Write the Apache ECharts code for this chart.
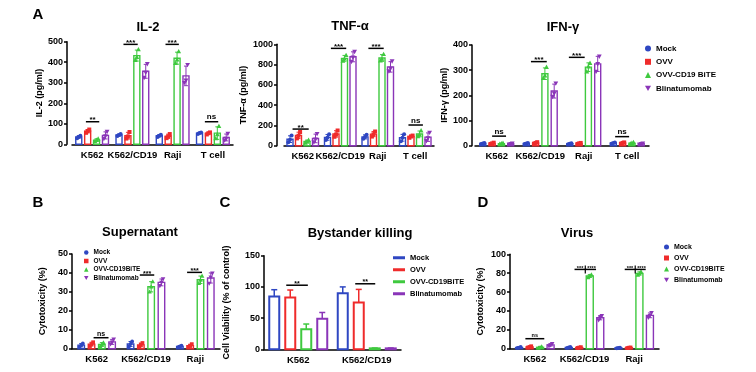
<!DOCTYPE html>
<html><head><meta charset="utf-8">
<script src="https://cdn.jsdelivr.net/npm/echarts@6/dist/echarts.min.js"></script>
<style>html,body{margin:0;padding:0;background:#fff}#c{width:756px;height:372px}</style>
</head><body><div id="c"></div>
<script>
// ---------------- DATA ----------------
const catsA = ['K562', 'K562/CD19', 'Raji', 'T cell'];
const catsB = ['K562', 'K562/CD19', 'Raji'];
const catsC = ['K562', 'K562/CD19'];
const catsD = ['K562', 'K562/CD19', 'Raji'];

const namesA = ['Mock', 'OVV', 'OVV-CD19 BiTE', 'Blinatumomab'];
const namesBC = ['Mock', 'OVV', 'OVV-CD19BiTE', 'Blinatumomab'];
const namesD = ['Mock', 'OVV', 'OVV-CD19BITE', 'Blinatumomab'];

// replicate values (3 per bar), one array per group
const il2Mock = [[30, 36, 42], [40, 45, 50], [36, 42, 47], [50, 55, 58]];
const il2Ovv  = [[56, 64, 72], [28, 38, 60], [30, 38, 50], [48, 54, 58]];
const il2Bite = [[14, 20, 27], [410, 425, 462], [395, 412, 452], [28, 48, 88]];
const il2Blin = [[28, 40, 62], [325, 350, 392], [300, 312, 388], [20, 28, 52]];

const tnfMock = [[35, 58, 100], [55, 80, 112], [68, 85, 108], [45, 78, 112]];
const tnfOvv  = [[72, 98, 135], [88, 110, 150], [90, 112, 140], [78, 92, 100]];
const tnfBite = [[28, 40, 55], [835, 858, 892], [838, 855, 902], [92, 108, 148]];
const tnfBlin = [[35, 62, 118], [830, 872, 928], [735, 762, 835], [48, 75, 130]];

const ifnMock = [[7, 9, 11], [7, 9, 11], [6, 8, 10], [8, 11, 13]];
const ifnOvv  = [[7, 9, 12], [8, 11, 14], [7, 9, 11], [8, 11, 13]];
const ifnBite = [[6, 8, 10], [268, 278, 312], [294, 314, 328], [7, 10, 13]];
const ifnBlin = [[6, 8, 10], [195, 208, 248], [295, 325, 355], [6, 8, 10]];

const supMock = [[1, 1.8, 2.8], [1.2, 2.5, 3.8], [0.8, 1.2, 1.6]];
const supOvv  = [[1.4, 2.4, 3.4], [1, 2, 3], [0.9, 1.5, 2.4]];
const supBite = [[1.2, 2.2, 3.2], [30, 32.7, 35.4], [34.5, 36.3, 38.4]];
const supBlin = [[2.4, 3.4, 5], [33.2, 35, 36.8], [34.5, 37.7, 39.8]];

// bystander killing: mean and SD
const byMean = { mock: [84.5, 90], ovv: [83, 75], bite: [32, 1.5], blin: [49, 1.5] };
const bySd   = { mock: [11, 10],   ovv: [12, 21], bite: [8.5, 0.6], blin: [10, 0.6] };

const virMock = [[0.8, 1.2, 1.8], [0.8, 1.3, 1.8], [0.5, 0.8, 1.1]];
const virOvv  = [[1.2, 1.8, 2.6], [0.8, 1.2, 1.6], [0.7, 1, 1.3]];
const virBite = [[0.8, 1.4, 2.2], [75.5, 77, 78.5], [78, 79.5, 81.5]];
const virBlin = [[2.8, 4, 5.2], [30.5, 33, 35], [33, 35, 38]];

// significance: [category, fromGroup, toGroup, yValue, label]
const il2Sig = [[0, 0.8, 2.3, 110, '**'], [1, 0.5, 2.1, 487, '***'], [2, 0.7, 2.2, 487, '***'], [3, 0.6, 2.1, 110, 'ns']];
const tnfSig = [[0, 0.3, 2.2, 164, '**'], [1, 0.4, 2.2, 960, '***'], [2, 0.4, 2.2, 960, '***'], [3, 0.7, 2.4, 204, 'ns']];
const ifnSig = [[0, 1.0, 2.5, 38, 'ns'], [1, 0.5, 2.2, 334, '***'], [2, -0.1, 1.6, 351, '***'], [3, 0.2, 1.7, 36, 'ns']];
const supSig = [[0, 1.2, 2.65, 5.8, 'ns'], [1, 0.9, 2.3, 38.9, '***'], [2, 0.7, 2.15, 40.3, '***']];
const bySig  = [[0, 0.75, 2.1, 102.7, '**'], [1, 0.78, 2.03, 105, '**']];
const virSig = [[0, 0.6, 2.4, 10.6, 'ns'], [1, 0.55, 2.6, 84, '***|****'], [2, 0.6, 2.6, 84, '***|****']];

// ---------------- STYLE / LAYOUT ----------------
const FONT = '"Liberation Sans", Arial, Helvetica, sans-serif';
const COLORS = ['#2f47c2', '#ef2b2b', '#3fc93f', '#8a35b8'];
const JIT = [-1.6, 0, 1.6];

const panels = [
  { grid: { left: 72, top: 41.7, width: 161, height: 102.6 }, offset: 5, max: 500, interval: 100, yName: 'IL-2 (pg/ml)', nameGap: 21,
    cats: catsA, names: namesA, reps: [il2Mock, il2Ovv, il2Bite, il2Blin], sig: il2Sig, spacing: 8.9, barWidth: 6, mr: 2, cap: 2, sigFont: 8 },
  { grid: { left: 284, top: 44.3, width: 150, height: 101.4 }, offset: 7, max: 1000, interval: 200, yName: 'TNF-\u03b1 (pg/ml)', nameGap: 29,
    cats: catsA, names: namesA, reps: [tnfMock, tnfOvv, tnfBite, tnfBlin], sig: tnfSig, spacing: 8.5, barWidth: 6, mr: 2, cap: 2, sigFont: 8 },
  { grid: { left: 475, top: 45, width: 174, height: 100.7 }, offset: 3, max: 400, interval: 100, yName: 'IFN-\u03b3 (pg/ml)', nameGap: 21,
    cats: catsA, names: namesA, reps: [ifnMock, ifnOvv, ifnBite, ifnBlin], sig: ifnSig, spacing: 9.3, barWidth: 6, mr: 2, cap: 2, sigFont: 8 },
  { grid: { left: 72, top: 254, width: 148, height: 94.7 }, offset: 0, max: 50, interval: 10, yName: 'Cytotoxicity (%)', nameGap: 25,
    cats: catsB, names: namesBC, reps: [supMock, supOvv, supBite, supBlin], sig: supSig, spacing: 10.3, barWidth: 6.5, mr: 1.9, cap: 2, sigFont: 7 },
  { grid: { left: 264, top: 255.7, width: 137, height: 93.6 }, offset: 0, max: 150, interval: 50, yName: 'Cell Viability (% of control)', nameGap: 33,
    cats: catsC, names: namesBC, sig: bySig, spacing: 16, barWidth: 10, cap: 3, sigFont: 7 },
  { grid: { left: 510, top: 254.3, width: 149, height: 94.4 }, offset: 0, max: 100, interval: 20, yName: 'Cytotoxicity (%)', nameGap: 25,
    cats: catsD, names: namesD, reps: [virMock, virOvv, virBite, virBlin], sig: virSig, spacing: 10.5, barWidth: 7, mr: 1.9, cap: 2, sigFont: 5.5 }
];

function mean(a) { return a.reduce((s, v) => s + v, 0) / a.length; }
function sdev(a) { const m = mean(a); return Math.sqrt(a.reduce((s, v) => s + (v - m) * (v - m), 0) / (a.length - 1)); }

function marker(shape, x, y, r, color) {
  if (shape === 0) return { type: 'circle', shape: { cx: x, cy: y, r: r }, style: { fill: color } };
  if (shape === 1) return { type: 'rect', shape: { x: x - r, y: y - r, width: 2 * r, height: 2 * r }, style: { fill: color } };
  if (shape === 2) return { type: 'polygon', shape: { points: [[x, y - r * 1.3], [x + r * 1.2, y + r * 0.9], [x - r * 1.2, y + r * 0.9]] }, style: { fill: color } };
  return { type: 'polygon', shape: { points: [[x, y + r * 1.3], [x + r * 1.2, y - r * 0.9], [x - r * 1.2, y - r * 0.9]] }, style: { fill: color } };
}

function barRender(p, sIdx, reps) {
  return function (params, api) {
    const i = params.dataIndex;
    const r = reps[i]; const m = mean(r), s = sdev(r);
    const base = api.coord([i, 0]);
    const cx = base[0] + (sIdx - 1.5) * p.spacing;
    const yTop = api.coord([i, m])[1];
    const yE1 = api.coord([i, m + s])[1], yE0 = api.coord([i, Math.max(0, m - s)])[1];
    const c = COLORS[sIdx], hw = p.barWidth / 2;
    const ch = [
      { type: 'rect', shape: { x: cx - hw, y: yTop, width: p.barWidth, height: Math.max(base[1] - yTop, 0) }, style: { fill: '#fff', stroke: c, lineWidth: 1.4 } },
      { type: 'line', shape: { x1: cx, y1: yE1, x2: cx, y2: yE0 }, style: { stroke: c, lineWidth: 1 } },
      { type: 'line', shape: { x1: cx - p.cap, y1: yE1, x2: cx + p.cap, y2: yE1 }, style: { stroke: c, lineWidth: 1 } },
      { type: 'line', shape: { x1: cx - p.cap, y1: yE0, x2: cx + p.cap, y2: yE0 }, style: { stroke: c, lineWidth: 1 } }
    ];
    r.forEach((v, k) => ch.push(marker(sIdx, cx + JIT[k], api.coord([i, v])[1], p.mr, c)));
    return { type: 'group', children: ch };
  };
}

function byRender(p, sIdx, means, sds) {
  return function (params, api) {
    const i = params.dataIndex;
    const m = means[i], s = sds[i];
    const base = api.coord([i, 0]);
    const cx = base[0] + (sIdx - 1.5) * p.spacing;
    const yTop = api.coord([i, m])[1];
    const yE1 = api.coord([i, m + s])[1];
    const c = COLORS[sIdx], hw = p.barWidth / 2;
    return { type: 'group', children: [
      { type: 'line', shape: { x1: cx, y1: yE1, x2: cx, y2: yTop }, style: { stroke: c, lineWidth: 1.5 } },
      { type: 'line', shape: { x1: cx - p.cap, y1: yE1, x2: cx + p.cap, y2: yE1 }, style: { stroke: c, lineWidth: 1.5 } },
      { type: 'rect', shape: { x: cx - hw, y: yTop, width: p.barWidth, height: Math.max(base[1] - yTop, 0) }, style: { fill: '#fff', stroke: c, lineWidth: 2 } }
    ] };
  };
}

function sigRender(p, sig) {
  return function (params, api) {
    const a = sig[params.dataIndex];
    const base = api.coord([a[0], a[3]]);
    const x1 = base[0] + (a[1] - 1.5) * p.spacing, x2 = base[0] + (a[2] - 1.5) * p.spacing, y = base[1];
    const ch = [{ type: 'line', shape: { x1: x1, y1: y, x2: x2, y2: y }, style: { stroke: '#000', lineWidth: 1.5 } }];
    const font = 'bold ' + p.sigFont + 'px ' + FONT;
    if (a[4].indexOf('|') >= 0) {
      const parts = a[4].split('|'); const xm = (x1 + x2) / 2;
      ch.push({ type: 'line', shape: { x1: xm, y1: y - 4, x2: xm, y2: y + 4 }, style: { stroke: '#000', lineWidth: 1.2 } });
      ch.push({ type: 'text', style: { text: parts[0], x: xm - 2, y: y + p.sigFont * 0.3, align: 'right', verticalAlign: 'bottom', font: font, fill: '#000' } });
      ch.push({ type: 'text', style: { text: parts[1], x: xm + 2, y: y + p.sigFont * 0.3, align: 'left', verticalAlign: 'bottom', font: font, fill: '#000' } });
    } else {
      const ty = a[4].charAt(0) === '*' ? y + p.sigFont * 0.3 : y - 0.5;
      ch.push({ type: 'text', style: { text: a[4], x: (x1 + x2) / 2, y: ty, align: 'center', verticalAlign: 'bottom', font: font, fill: '#000' } });
    }
    return { type: 'group', children: ch };
  };
}

const grids = [], xAxes = [], yAxes = [], series = [];
panels.forEach((p, k) => {
  grids.push(Object.assign({ containLabel: false }, p.grid));
  xAxes.push({ type: 'category', gridIndex: k, data: p.cats,
    axisLine: { lineStyle: { color: '#000', width: 1.5 } },
    axisTick: { alignWithLabel: true, length: 3, lineStyle: { color: '#000', width: 1.5 } },
    axisLabel: { color: '#000', fontWeight: 'bold', fontSize: 9.5, fontFamily: FONT, margin: 6, interval: 0 } });
  yAxes.push({ type: 'value', gridIndex: k, min: 0, max: p.max, interval: p.interval, offset: p.offset,
    name: p.yName, nameLocation: 'middle', nameGap: p.nameGap,
    nameTextStyle: { fontWeight: 'bold', fontSize: 9, color: '#000', fontFamily: FONT },
    axisLine: { show: true, lineStyle: { color: '#000', width: 1.5 } },
    axisTick: { show: true, length: 3, lineStyle: { color: '#000', width: 1.5 } },
    axisLabel: { color: '#000', fontWeight: 'bold', fontSize: 9, fontFamily: FONT, margin: 4, formatter: v => String(v) },
    splitLine: { show: false } });
  for (let s = 0; s < 4; s++) {
    if (p.reps) {
      series.push({ type: 'custom', name: p.names[s], xAxisIndex: k, yAxisIndex: k, silent: true,
        itemStyle: { color: COLORS[s] },
        data: p.reps[s].map((r, i) => [i, mean(r)]), renderItem: barRender(p, s, p.reps[s]) });
    } else {
      const key = ['mock', 'ovv', 'bite', 'blin'][s];
      series.push({ type: 'custom', name: p.names[s], xAxisIndex: k, yAxisIndex: k, silent: true,
        itemStyle: { color: COLORS[s] },
        data: byMean[key].map((m, i) => [i, m]), renderItem: byRender(p, s, byMean[key], bySd[key]) });
    }
  }
  series.push({ type: 'custom', xAxisIndex: k, yAxisIndex: k, silent: true, z: 5,
    data: p.sig.map(a => [a[0], a[3]]), renderItem: sigRender(p, p.sig) });
});

const invTri = 'path://M0,0L10,0L5,9Z';
function legendData(names, rectIcons) {
  const icons = ['circle', 'rect', 'triangle', invTri];
  return names.map((n, i) => ({ name: n, icon: rectIcons ? 'rect' : icons[i] }));
}
function legendText(size, lh) { return { fontWeight: 'bold', fontSize: size, fontFamily: FONT, color: '#000', lineHeight: lh }; }

const legends = [
  { left: 640, top: 39, orient: 'vertical', itemWidth: 6, itemHeight: 6, itemGap: 4.3, selectedMode: false,
    data: legendData(namesA), textStyle: legendText(8, 9) },
  { left: 79, top: 244, orient: 'vertical', itemWidth: 4.5, itemHeight: 4.5, itemGap: 1.5, selectedMode: false,
    data: legendData(namesBC), textStyle: legendText(6.5, 7) },
  { left: 388, top: 248.5, orient: 'vertical', itemWidth: 12, itemHeight: 3, itemGap: 3.5, selectedMode: false,
    data: legendData(namesBC, true), textStyle: legendText(7.5, 8.5) },
  { left: 659, top: 238, orient: 'vertical', itemWidth: 5, itemHeight: 5, itemGap: 3, selectedMode: false,
    data: legendData(namesD), textStyle: legendText(7, 8) }
];

function txt(t, x, y, size) {
  return { type: 'text', x: x, y: y, silent: true,
    style: { text: t, align: 'center', verticalAlign: 'middle', font: 'bold ' + size + 'px ' + FONT, fill: '#000' } };
}
const graphics = [
  txt('A', 38, 15, 15), txt('B', 38, 203, 15), txt('C', 225, 203, 15), txt('D', 483, 203, 15),
  txt('IL-2', 148, 27, 13), txt('TNF-\u03b1', 350, 26, 13), txt('IFN-\u03b3', 563, 27, 13),
  txt('Supernatant', 140, 232, 13), txt('Bystander killing', 360, 233, 13), txt('Virus', 577, 233, 13)
];

const chart = echarts.init(document.getElementById('c'), null, { renderer: 'canvas' });
chart.setOption({
  backgroundColor: '#fff', animation: false,
  grid: grids, xAxis: xAxes, yAxis: yAxes, series: series, legend: legends, graphic: graphics
});
</script></body></html>
